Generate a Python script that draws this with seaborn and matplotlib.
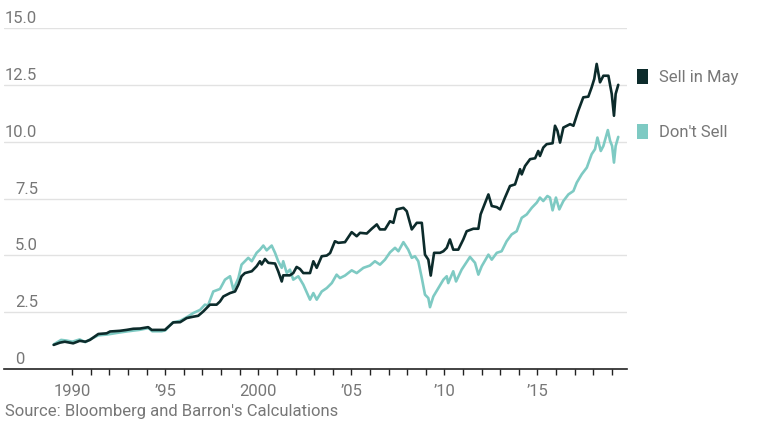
import numpy as np
import pandas as pd
import matplotlib
matplotlib.use("Agg")
import matplotlib.pyplot as plt
import matplotlib.transforms as mtransforms
from matplotlib.patches import Patch
import seaborn as sns

# ---- data ----
years_sell = [1989.00, 1989.34, 1989.60, 1990.05, 1990.40, 1990.70, 1990.95, 1991.40, 1991.85, 1992.03,
              1992.56, 1992.92, 1993.28, 1993.64, 1994.08, 1994.27, 1994.72, 1994.98, 1995.43, 1995.80,
              1996.15, 1996.50, 1996.77, 1997.04, 1997.40, 1997.76, 1997.94, 1998.12, 1998.48, 1998.75,
              1998.93, 1999.10, 1999.28, 1999.65, 1999.91, 2000.09, 2000.18, 2000.36, 2000.54, 2000.90,
              2001.07, 2001.26, 2001.34, 2001.70, 2001.88, 2002.06, 2002.24, 2002.42, 2002.78, 2002.96,
              2003.14, 2003.41, 2003.68, 2003.86, 2004.12, 2004.30, 2004.66, 2005.02, 2005.29, 2005.47,
              2005.83, 2006.10, 2006.37, 2006.54, 2006.81, 2007.08, 2007.26, 2007.44, 2007.80, 2007.98,
              2008.25, 2008.52, 2008.79, 2008.96, 2009.14, 2009.27, 2009.45, 2009.77, 2009.95, 2010.13,
              2010.30, 2010.48, 2010.75, 2011.02, 2011.20, 2011.56, 2011.83, 2011.95, 2012.37, 2012.55,
              2012.82, 2013.00, 2013.26, 2013.53, 2013.80, 2014.07, 2014.16, 2014.34, 2014.61, 2014.88,
              2015.05, 2015.14, 2015.32, 2015.50, 2015.82, 2015.95, 2016.08, 2016.22, 2016.40, 2016.76,
              2016.94, 2017.20, 2017.47, 2017.74, 2017.92, 2018.06, 2018.19, 2018.37, 2018.55, 2018.82,
              2019.00, 2019.12, 2019.21, 2019.35]
sell_in_may = [1.06, 1.16, 1.20, 1.13, 1.24, 1.20, 1.28, 1.54, 1.57, 1.65,
               1.68, 1.72, 1.77, 1.78, 1.84, 1.72, 1.72, 1.72, 2.05, 2.06,
               2.24, 2.30, 2.34, 2.53, 2.83, 2.83, 2.97, 3.19, 3.34, 3.41,
               3.71, 4.08, 4.22, 4.30, 4.52, 4.74, 4.60, 4.84, 4.67, 4.64,
               4.30, 3.85, 4.12, 4.12, 4.22, 4.49, 4.40, 4.22, 4.22, 4.74,
               4.45, 4.96, 4.99, 5.10, 5.62, 5.55, 5.58, 6.02, 5.84, 5.99,
               5.96, 6.17, 6.36, 6.14, 6.14, 6.50, 6.43, 7.02, 7.09, 6.94,
               6.14, 6.43, 6.43, 5.03, 4.81, 4.11, 5.11, 5.11, 5.18, 5.33,
               5.70, 5.25, 5.25, 5.70, 6.06, 6.17, 6.17, 6.80, 7.68, 7.17,
               7.12, 7.02, 7.54, 8.05, 8.12, 8.79, 8.56, 8.93, 9.23, 9.27,
               9.59, 9.37, 9.74, 9.89, 9.93, 10.70, 10.48, 9.96, 10.62, 10.77,
               10.70, 11.36, 11.95, 11.98, 12.39, 12.76, 13.42, 12.61, 12.90, 12.90,
               12.10, 11.14, 12.10, 12.50]

years_dont = [1989.00, 1989.40, 1989.70, 1990.00, 1990.40, 1990.70, 1991.00, 1991.40, 1991.90, 1992.50,
              1993.00, 1993.60, 1994.10, 1994.30, 1994.80, 1995.00, 1995.40, 1995.80, 1996.20, 1996.50,
              1996.87, 1997.13, 1997.30, 1997.58, 1997.94, 1998.21, 1998.48, 1998.66, 1998.93, 1999.10,
              1999.46, 1999.65, 1999.91, 2000.09, 2000.27, 2000.45, 2000.72, 2000.90, 2001.07, 2001.26,
              2001.34, 2001.53, 2001.70, 2001.88, 2002.15, 2002.42, 2002.78, 2002.96, 2003.14, 2003.41,
              2003.68, 2003.95, 2004.21, 2004.39, 2004.66, 2005.02, 2005.29, 2005.65, 2006.00, 2006.27,
              2006.54, 2006.81, 2007.08, 2007.35, 2007.53, 2007.80, 2008.06, 2008.25, 2008.42, 2008.60,
              2008.79, 2008.96, 2009.14, 2009.23, 2009.41, 2009.68, 2009.95, 2010.13, 2010.21, 2010.48,
              2010.63, 2010.93, 2011.38, 2011.65, 2011.83, 2012.01, 2012.37, 2012.55, 2012.82, 2013.08,
              2013.35, 2013.62, 2013.89, 2014.16, 2014.43, 2014.70, 2014.97, 2015.14, 2015.32, 2015.54,
              2015.68, 2015.82, 2016.00, 2016.18, 2016.40, 2016.67, 2016.94, 2017.12, 2017.39, 2017.66,
              2017.92, 2018.10, 2018.23, 2018.41, 2018.55, 2018.79, 2018.91, 2019.02, 2019.12, 2019.21,
              2019.35]
dont_sell = [1.08, 1.28, 1.25, 1.20, 1.30, 1.18, 1.32, 1.48, 1.52, 1.60,
             1.66, 1.72, 1.80, 1.66, 1.66, 1.70, 2.05, 2.12, 2.30, 2.46,
             2.60, 2.83, 2.80, 3.41, 3.52, 3.93, 4.08, 3.49, 4.00, 4.59,
             4.89, 4.74, 5.11, 5.25, 5.43, 5.22, 5.43, 5.11, 4.74, 4.45,
             4.74, 4.22, 4.37, 3.93, 4.08, 3.71, 3.05, 3.34, 3.05, 3.41,
             3.56, 3.78, 4.15, 4.00, 4.11, 4.34, 4.22, 4.45, 4.55, 4.74,
             4.59, 4.81, 5.13, 5.33, 5.18, 5.58, 5.25, 4.89, 4.96, 4.74,
             4.00, 3.27, 3.12, 2.72, 3.19, 3.56, 3.93, 4.08, 3.78, 4.30,
             3.85, 4.37, 4.93, 4.67, 4.15, 4.52, 5.03, 4.81, 5.11, 5.18,
             5.62, 5.92, 6.06, 6.65, 6.80, 7.09, 7.32, 7.54, 7.39, 7.61,
             7.54, 6.98, 7.54, 7.02, 7.39, 7.68, 7.83, 8.20, 8.57, 8.86,
             9.45, 9.67, 10.18, 9.59, 9.81, 10.51, 10.04, 9.81, 9.08, 9.81,
             10.21]

series_names = ["Sell in May", "Don't Sell"]
y_ticks = [0, 2.5, 5.0, 7.5, 10.0, 12.5, 15.0]
y_tick_labels = ["0", "2.5", "5.0", "7.5", "10.0", "12.5", "15.0"]
x_tick_years = list(range(1990, 2020))
x_label_years = [1990, 1995, 2000, 2005, 2010, 2015]
x_label_text = ["1990", "\u201995", "2000", "\u201905", "\u201910", "\u201915"]
source_text = "Source: Bloomberg and Barron's Calculations"

# ---- styling ----
DARK = "#0c2b2b"
LIGHT = "#7ecac3"
GRAY = "#777777"
FS = 12

sns.set_theme(style="white")
plt.rcParams["font.family"] = ["Roboto", "DejaVu Sans"]

df = pd.concat([
    pd.DataFrame({"year": years_sell, "value": sell_in_may, "series": series_names[0]}),
    pd.DataFrame({"year": years_dont, "value": dont_sell, "series": series_names[1]}),
], ignore_index=True)

fig = plt.figure(figsize=(7.8, 4.3), dpi=100)
ax = fig.add_axes([4 / 780, 61 / 430, 623 / 780, 341 / 430])

palette = {series_names[0]: DARK, series_names[1]: LIGHT}
# draw light first so the dark line sits on top
sns.lineplot(data=df, x="year", y="value", hue="series", hue_order=[series_names[1], series_names[0]],
             palette=palette, linewidth=1.9, legend=False, ax=ax, estimator=None, sort=False)

ax.set_xlim(1986.33, 2019.82)
ax.set_ylim(0, 15)

# grid lines
for yv in y_ticks[1:]:
    ax.axhline(yv, color="#e2e2e2", lw=1.0, zorder=0)

ax.set_yticks([])
ax.set_xlabel("")
ax.set_ylabel("")

# x axis
ax.set_xticks(x_tick_years)
ax.set_xticklabels([x_label_text[x_label_years.index(y)] if y in x_label_years else "" for y in x_tick_years])
ax.tick_params(axis="x", direction="out", length=4, width=1.0, color="#222222",
               labelsize=FS, labelcolor=GRAY, pad=7, bottom=True)
for s in ["top", "right", "left"]:
    ax.spines[s].set_visible(False)
ax.spines["bottom"].set_color("#222222")
ax.spines["bottom"].set_linewidth(1.2)

# y tick labels drawn above the grid lines
trans = mtransforms.offset_copy(ax.get_yaxis_transform(), fig=fig, x=0, y=3.6, units="points")
for yv, lab in zip(y_ticks, y_tick_labels):
    xpos = 1 / 623 if len(lab) >= 4 else 11 / 623
    ax.text(xpos, yv, lab, transform=trans, ha="left", va="baseline", fontsize=FS, color=GRAY)

# legend
handles = [Patch(facecolor=DARK, edgecolor="none"), Patch(facecolor=LIGHT, edgecolor="none")]
leg = fig.legend(handles, series_names, loc="upper left", bbox_to_anchor=(637 / 780, 1 - 69 / 430),
                 frameon=False, fontsize=FS, handlelength=0.65, handleheight=1.0,
                 handletextpad=0.65, labelspacing=2.32, borderpad=0, borderaxespad=0)
for t in leg.get_texts():
    t.set_color(GRAY)

fig.text(5 / 780, 1 - 416 / 430, source_text, ha="left", va="baseline", fontsize=FS, color=GRAY)

fig.savefig("out.png", dpi=100)
